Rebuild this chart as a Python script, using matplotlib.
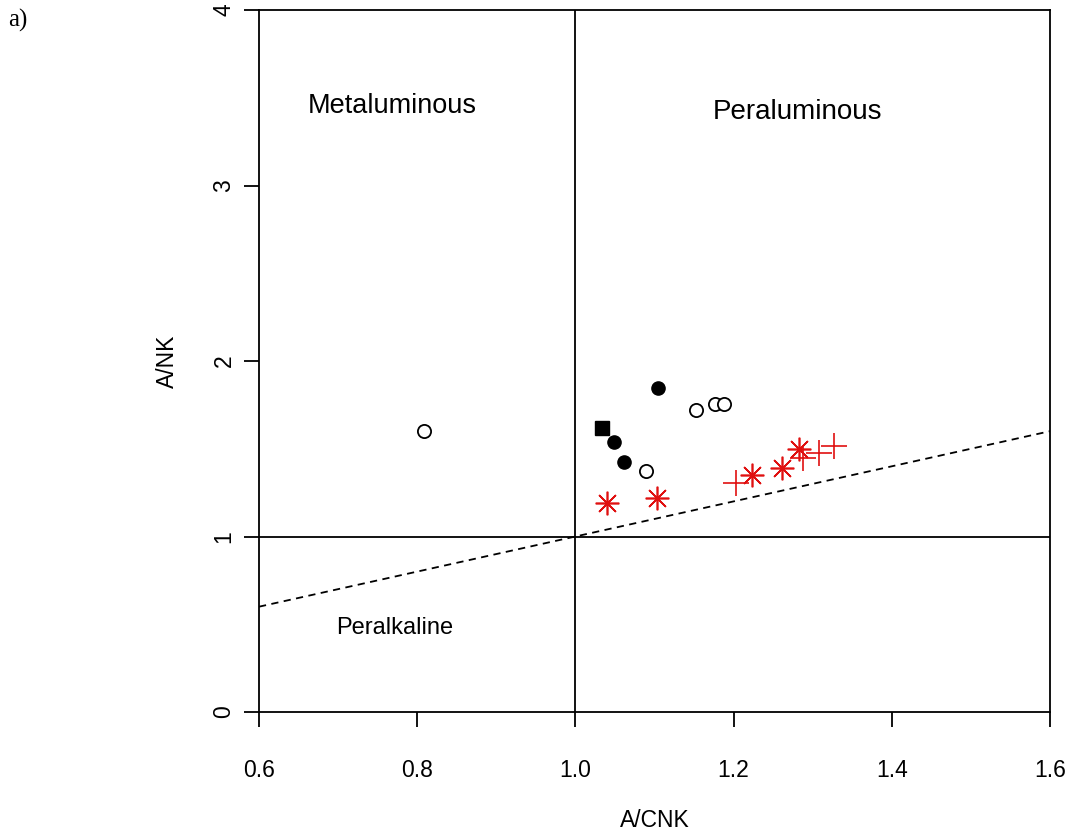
import matplotlib
matplotlib.use("Agg")
import matplotlib.pyplot as plt
import numpy as np

plt.rcParams['font.family'] = ['Liberation Sans', 'DejaVu Sans']

# Data (A/CNK, A/NK)
open_x = [0.809, 1.0895, 1.153, 1.176, 1.188]
open_y = [1.601, 1.375, 1.722, 1.756, 1.756]

filled_x = [1.105, 1.0485, 1.0612]
filled_y = [1.848, 1.540, 1.426]

square_x = [1.034]
square_y = [1.617]

star_x = [1.040, 1.103, 1.2237, 1.2616, 1.2827]
star_y = [1.193, 1.218, 1.350, 1.392, 1.497]

plus_x = [1.2025, 1.2877, 1.308, 1.327]
plus_y = [1.307, 1.446, 1.474, 1.516]

ref_line_x = [0.6, 1.6]
ref_line_y = [0.6, 1.6]

xticks = [0.6, 0.8, 1.0, 1.2, 1.4, 1.6]
xtick_labels = ["0.6", "0.8", "1.0", "1.2", "1.4", "1.6"]
yticks = [0, 1, 2, 3, 4]
ytick_labels = ["0", "1", "2", "3", "4"]

fig = plt.figure(figsize=(10.69, 8.32), dpi=100)
ax = fig.add_axes([259/1069, 1-712/832, (1050-259)/1069, (712-10)/832])
ax.set_xlim(0.6, 1.6)
ax.set_ylim(0, 4)

ax.axvline(1.0, color='black', lw=1.3)
ax.axhline(1.0, color='black', lw=1.3)
ax.plot(ref_line_x, ref_line_y, color='black', lw=1.3, ls=(0, (4, 3)))

ax.plot(open_x, open_y, ls='none', marker='o', ms=9.5, mfc='white', mec='black', mew=1.3)
ax.plot(filled_x, filled_y, ls='none', marker='o', ms=9.5, mfc='black', mec='black')
ax.plot(square_x, square_y, ls='none', marker='s', ms=10, mfc='black', mec='black')
ax.plot(star_x, star_y, ls='none', marker=(8, 2, 0), ms=17, mec='#e01010', mew=1.2)
ax.plot(plus_x, plus_y, ls='none', marker='+', ms=19, mec='#e01010', mew=1.2)

ax.text(0.768, 3.453, "Metaluminous", fontsize=19.5, ha='center', va='center')
ax.text(1.281, 3.419, "Peraluminous", fontsize=20, ha='center', va='center')
ax.text(0.772, 0.479, "Peralkaline", fontsize=17, ha='center', va='center')

ax.set_xticks(xticks)
ax.set_xticklabels(xtick_labels, fontsize=16.5)
ax.set_yticks(yticks)
ax.set_yticklabels(ytick_labels, fontsize=16.5, rotation=90, va='center')
ax.tick_params(direction='out', length=11, width=1.3)
ax.tick_params(axis='x', pad=23)
ax.tick_params(axis='y', pad=6)
for s in ax.spines.values():
    s.set_linewidth(1.3)

ax.set_xlabel("A/CNK", fontsize=16.5, labelpad=19)
ax.set_ylabel("A/NK", fontsize=16.5, labelpad=24)

fig.text(8/1069, 1-20/832, "a)", fontsize=18, family=['Liberation Serif', 'DejaVu Serif'], ha='left', va='center')

fig.savefig("out.png", dpi=100)
